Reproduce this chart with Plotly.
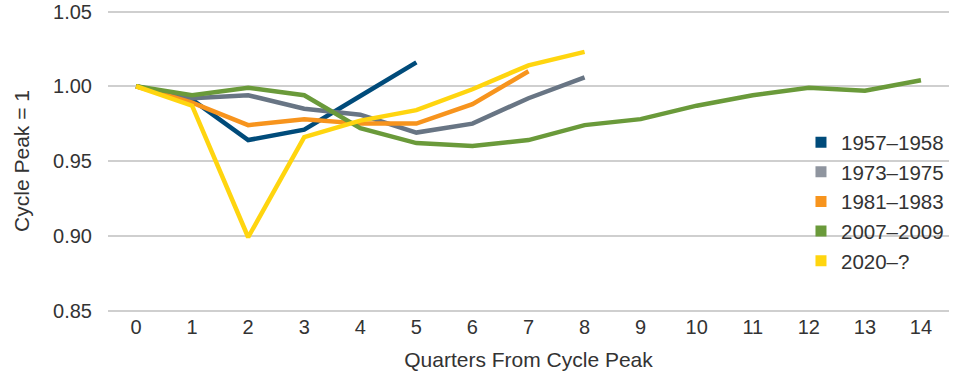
import plotly.graph_objects as go

quarters = list(range(15))
series_names = ["1957–1958", "1973–1975", "1981–1983", "2007–2009", "2020–?"]
s1957 = [1.000, 0.991, 0.964, 0.971, 0.9935, 1.016]
s1973 = [1.000, 0.992, 0.994, 0.985, 0.981, 0.969, 0.975, 0.992, 1.006]
s1981 = [1.000, 0.989, 0.974, 0.978, 0.975, 0.975, 0.988, 1.010]
s2007 = [1.000, 0.994, 0.999, 0.994, 0.972, 0.962, 0.960, 0.964, 0.974, 0.978,
         0.987, 0.994, 0.999, 0.997, 1.004]
s2020 = [1.000, 0.987, 0.899, 0.966, 0.977, 0.984, 0.998, 1.014, 1.023]
y_ticks = [0.85, 0.90, 0.95, 1.00, 1.05]

line_colors = ["#004b7a", "#687584", "#f7941d", "#6a9a3a", "#ffd50f"]
legend_colors = ["#004b7a", "#8f959f", "#f7941d", "#6a9a3a", "#ffd50f"]
all_series = [s1957, s1973, s1981, s2007, s2020]

fig = go.Figure()
for name, vals, col in zip(series_names, all_series, line_colors):
    fig.add_trace(go.Scatter(x=quarters[:len(vals)], y=vals, mode="lines",
                             line=dict(color=col, width=4.5), name=name,
                             showlegend=False, hoverinfo="x+y+name"))
for name, col in zip(series_names, legend_colors):
    fig.add_trace(go.Scatter(x=[None], y=[None], mode="markers", name=name,
                             marker=dict(symbol="square", size=11, color=col)))

font = "Liberation Sans, Arial, Helvetica, sans-serif"
fig.update_layout(
    width=960, height=375,
    margin=dict(l=108, r=11, t=10, b=63),
    paper_bgcolor="white", plot_bgcolor="white",
    font=dict(family=font, size=20, color="#333333"),
    xaxis=dict(range=[-0.5, 14.5], tickmode="array", tickvals=quarters,
               ticktext=[str(q) for q in quarters], showgrid=False,
               zeroline=False, showline=False, ticks="", automargin=False,
               ticklabelstandoff=1, ticklabeloverflow="allow",
               title=dict(text="Quarters From Cycle Peak", standoff=15,
                          font=dict(size=21))),
    yaxis=dict(range=[0.849, 1.051], tickmode="array", tickvals=y_ticks,
               tickformat=".2f", showgrid=True, gridcolor="#cfcfcf",
               gridwidth=1.5, zeroline=False, showline=False, ticks="",
               ticklabelstandoff=15, automargin=False,
               ticklabeloverflow="allow",
               title=dict(text="Cycle Peak = 1", standoff=17,
                          font=dict(size=21))),
    legend=dict(x=0.824, xanchor="left", y=0.628, yanchor="top",
                bgcolor="rgba(0,0,0,0)", font=dict(size=20.5),
                itemwidth=30, tracegroupgap=0),
    shapes=[dict(type="rect", xref="paper", yref="paper", x0=0.80, x1=1.0,
                 y0=0.126, y1=0.619, fillcolor="white", line=dict(width=0),
                 layer="between")],
)
fig.write_html("out.html", config={"displayModeBar": False},
               post_script="document.body.style.margin='0';")
